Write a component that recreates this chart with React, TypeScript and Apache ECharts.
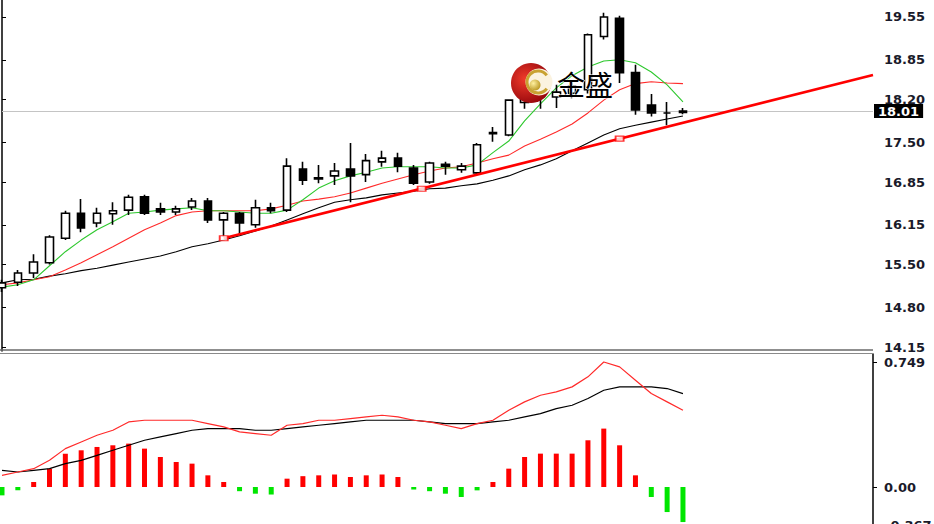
import React, { useEffect, useRef } from "react";
import * as echarts from "echarts";

// ---- price candles (44 bars) ----
const opens = [15.12, 15.21, 15.36, 15.53, 15.93, 16.34, 16.18, 16.33, 16.39, 16.61, 16.41, 16.36, 16.44, 16.54, 16.23, 16.34, 16.15, 16.43, 16.39, 17.06, 16.92, 16.95, 17.06, 16.97, 17.18, 17.24, 17.08, 16.85, 17.14, 17.05, 17.0, 17.64, 17.62, 18.15, 18.55, 18.24, 18.3, 18.36, 19.23, 19.53, 18.64, 18.11, 17.98, 17.99];
const closes = [15.2, 15.36, 15.54, 15.95, 16.34, 16.1, 16.34, 16.38, 16.6, 16.34, 16.36, 16.41, 16.54, 16.23, 16.34, 16.18, 16.43, 16.38, 17.11, 16.88, 16.9, 17.03, 16.95, 17.2, 17.24, 17.11, 16.83, 17.16, 17.11, 17.11, 17.46, 17.66, 18.19, 18.55, 18.25, 18.32, 18.42, 19.26, 19.55, 18.64, 18.03, 17.98, 17.98, 18.01];
const lows = [15.05, 15.15, 15.28, 15.5, 15.9, 16.03, 16.11, 16.15, 16.31, 16.31, 16.31, 16.31, 16.39, 16.18, 15.96, 15.98, 16.1, 16.34, 16.36, 16.8, 16.83, 16.8, 16.52, 16.85, 17.1, 17.01, 16.8, 16.82, 16.97, 17.0, 16.97, 17.51, 17.6, 18.05, 18.05, 18.06, 18.22, 18.3, 19.18, 18.47, 17.95, 17.92, 17.78, 17.96];
const highs = [15.25, 15.41, 15.67, 15.98, 16.38, 16.57, 16.43, 16.52, 16.64, 16.64, 16.51, 16.46, 16.59, 16.59, 16.36, 16.36, 16.56, 16.51, 17.24, 17.18, 17.13, 17.16, 17.49, 17.31, 17.36, 17.33, 17.13, 17.18, 17.18, 17.16, 17.49, 17.75, 18.2, 18.65, 18.62, 18.44, 18.5, 19.28, 19.62, 19.57, 18.77, 18.29, 18.16, 18.06];

// ---- moving averages ----
const maGreen = [15.13, 15.17, 15.25, 15.48, 15.71, 15.9, 16.07, 16.2, 16.34, 16.36, 16.39, 16.41, 16.43, 16.38, 16.38, 16.36, 16.34, 16.34, 16.39, 16.56, 16.75, 16.87, 16.95, 17.01, 17.08, 17.1, 17.1, 17.1, 17.08, 17.08, 17.13, 17.33, 17.52, 17.85, 18.13, 18.39, 18.59, 18.73, 18.83, 18.85, 18.8, 18.65, 18.44, 18.16];
const maRed = [15.17, 15.2, 15.25, 15.3, 15.41, 15.53, 15.66, 15.79, 15.93, 16.07, 16.18, 16.3, 16.36, 16.38, 16.38, 16.38, 16.38, 16.41, 16.47, 16.54, 16.57, 16.61, 16.67, 16.75, 16.83, 16.9, 16.97, 17.03, 17.08, 17.1, 17.16, 17.23, 17.29, 17.44, 17.55, 17.67, 17.8, 17.98, 18.19, 18.36, 18.46, 18.49, 18.47, 18.46];
const maBlack = [15.2, 15.25, 15.26, 15.31, 15.35, 15.4, 15.44, 15.49, 15.54, 15.59, 15.64, 15.71, 15.79, 15.84, 15.9, 15.97, 16.05, 16.13, 16.23, 16.33, 16.43, 16.52, 16.56, 16.59, 16.64, 16.67, 16.7, 16.74, 16.75, 16.79, 16.82, 16.88, 16.95, 17.05, 17.13, 17.23, 17.36, 17.49, 17.62, 17.72, 17.78, 17.83, 17.88, 17.93];

// ---- trend line (bar index, price) ----
const trendIdx = [14, 55];
const trendVal = [15.93, 18.6];
const markerIdx = [14, 26.5, 39];
const markerVal = [15.93, 16.74, 17.56];

// ---- MACD pane ----
const macdHist = [-0.05, -0.02, 0.03, 0.11, 0.2, 0.22, 0.24, 0.25, 0.26, 0.23, 0.18, 0.15, 0.14, 0.07, 0.03, -0.025, -0.04, -0.045, 0.05, 0.065, 0.07, 0.075, 0.06, 0.07, 0.075, 0.06, -0.015, -0.025, -0.04, -0.06, -0.02, 0.03, 0.11, 0.18, 0.2, 0.2, 0.2, 0.28, 0.35, 0.25, 0.07, -0.06, -0.15, -0.21];
const macdRed = [0.07, 0.09, 0.11, 0.16, 0.23, 0.27, 0.31, 0.34, 0.39, 0.4, 0.4, 0.4, 0.4, 0.38, 0.36, 0.33, 0.32, 0.31, 0.37, 0.38, 0.4, 0.4, 0.41, 0.42, 0.43, 0.42, 0.4, 0.39, 0.37, 0.35, 0.38, 0.4, 0.46, 0.51, 0.55, 0.57, 0.6, 0.66, 0.749, 0.72, 0.64, 0.56, 0.51, 0.46];
const macdBlack = [0.1, 0.09, 0.1, 0.11, 0.14, 0.16, 0.19, 0.22, 0.25, 0.28, 0.3, 0.32, 0.34, 0.35, 0.35, 0.35, 0.34, 0.34, 0.35, 0.36, 0.37, 0.38, 0.39, 0.4, 0.4, 0.4, 0.4, 0.39, 0.38, 0.38, 0.38, 0.39, 0.4, 0.42, 0.44, 0.47, 0.49, 0.53, 0.58, 0.6, 0.6, 0.6, 0.59, 0.56];

// ---- axis ticks ----
const priceTicks = [19.55, 18.85, 18.2, 17.5, 16.85, 16.15, 15.5, 14.8, 14.15];
const macdTicks = [0.749, 0];
const lastPrice = 18.01;
const macdMinLabel = "-0.367";
const SLOTS = 56;

const labelFont = {
  fontFamily: "DejaVu Sans",
  fontSize: 13,
  fontWeight: "bold" as const,
  color: "#1a1a2a",
};

export default function App() {
  const ref = useRef<HTMLDivElement>(null);
  useEffect(() => {
    if (!ref.current) return;
    const chart = echarts.init(ref.current, undefined, { renderer: "svg" });
    const cats = Array.from({ length: SLOTS }, (_, i) => String(i));
    const candles = opens.map((o, i) => [o, closes[i], lows[i], highs[i]]);
    const thinLine = (data: number[], color: string, xi: number, yi: number, w = 1.1) => ({
      type: "line",
      xAxisIndex: xi,
      yAxisIndex: yi,
      data,
      symbol: "none",
      lineStyle: { color, width: w },
      z: 3,
    });
    const Z = 100;
    chart.setOption({
      animation: false,
      backgroundColor: "#ffffff",
      grid: [
        { left: 2, right: 61, top: 0, height: 351 },
        { left: 2, right: 61, top: 354, bottom: 0 },
      ],
      xAxis: [
        { type: "category", gridIndex: 0, data: cats, boundaryGap: false, show: false },
        { type: "category", gridIndex: 1, data: cats, boundaryGap: false, show: false },
        { type: "value", gridIndex: 0, min: 0, max: SLOTS - 1, show: false },
      ],
      yAxis: [
        {
          type: "value",
          gridIndex: 0,
          position: "right",
          min: 14.085,
          max: 19.828,
          splitLine: { show: false },
          axisLine: { show: true, lineStyle: { color: "#000", width: 1.5 } },
          axisTick: { show: true, customValues: priceTicks, length: 4, lineStyle: { color: "#000" } },
          axisLabel: {
            customValues: priceTicks,
            formatter: (v: number) => v.toFixed(2),
            margin: 11,
            ...labelFont,
          },
        },
        {
          type: "value",
          gridIndex: 1,
          position: "right",
          min: -0.2216,
          max: 0.797,
          splitLine: { show: false },
          axisLine: { show: true, lineStyle: { color: "#000", width: 1.5 } },
          axisTick: { show: true, customValues: macdTicks, length: 4, lineStyle: { color: "#000" } },
          axisLabel: {
            customValues: macdTicks,
            formatter: (v: number) => (v === 0 ? "0.00" : String(v)),
            margin: 11,
            ...labelFont,
          },
        },
      ],
      series: [
        {
          type: "candlestick",
          xAxisIndex: 0,
          yAxisIndex: 0,
          data: candles,
          barWidth: 8,
          itemStyle: {
            color: "#ffffff",
            color0: "#000000",
            borderColor: "#000000",
            borderColor0: "#000000",
            borderWidth: 1.6,
          },
          z: 4,
          markLine: {
            silent: true,
            symbol: ["none", "none"],
            data: [{ yAxis: lastPrice }],
            lineStyle: { color: "#c4c4c4", width: 1, type: "solid" },
            label: {
              show: true,
              position: "end",
              distance: 1,
              formatter: lastPrice.toFixed(2),
              backgroundColor: "#000",
              padding: [1, 4, 0, 4],
              ...labelFont,
              color: "#ffffff",
            },
            z: 1,
          },
        },
        thinLine(maBlack, "#000000", 0, 0),
        thinLine(maRed, "#ff2a2a", 0, 0),
        thinLine(maGreen, "#2ec82e", 0, 0),
        {
          type: "line",
          xAxisIndex: 2,
          yAxisIndex: 0,
          data: trendIdx.map((x, i) => [x, trendVal[i]]),
          symbol: "none",
          lineStyle: { color: "#ff0000", width: 2.6 },
          z: 5,
        },
        {
          type: "scatter",
          xAxisIndex: 2,
          yAxisIndex: 0,
          data: markerIdx.map((x, i) => [x, markerVal[i]]),
          symbol: "rect",
          symbolSize: [8, 5],
          itemStyle: { color: "#ffffff", borderColor: "#ff0000", borderWidth: 1.5 },
          z: 6,
        },
        {
          type: "bar",
          xAxisIndex: 1,
          yAxisIndex: 1,
          data: macdHist,
          barWidth: 5,
          itemStyle: {
            color: (p: any) => (p.value >= 0 ? "#ff0000" : "#00e600"),
          },
        },
        thinLine(macdBlack, "#000000", 1, 1, 1.2),
        thinLine(macdRed, "#ff2a2a", 1, 1, 1.2),
      ],
      graphic: [
        { type: "line", shape: { x1: 0, y1: 350, x2: 873, y2: 350 }, style: { stroke: "#6a6a6a", lineWidth: 1.5 }, z: Z },
        { type: "line", shape: { x1: 0, y1: 353.5, x2: 873, y2: 353.5 }, style: { stroke: "#8a8a8a", lineWidth: 1.2 }, z: Z },
        {
          type: "text",
          x: 885,
          y: 519,
          style: { text: macdMinLabel, font: "bold 13px 'DejaVu Sans'", fill: "#1a1a2a" },
          z: Z,
        },
        {
          type: "circle",
          z: Z,
          shape: { cx: 531, cy: 83, r: 20 },
          style: {
            fill: new echarts.graphic.RadialGradient(0.35, 0.4, 0.75, [
              { offset: 0, color: "#f03a2a" },
              { offset: 1, color: "#8a0008" },
            ]),
          },
        },
        { type: "circle", z: Z + 1, shape: { cx: 539, cy: 82, r: 13.5 }, style: { fill: "#fbf3e0" } },
        {
          type: "arc",
          z: Z + 2,
          shape: { cx: 538, cy: 82, r: 11, startAngle: 0.65, endAngle: Math.PI * 2 - 0.65, clockwise: true },
          style: { stroke: "#c9a232", lineWidth: 3, fill: "none" },
        },
        {
          type: "circle",
          z: Z + 3,
          shape: { cx: 535, cy: 85, r: 5.5 },
          style: {
            fill: new echarts.graphic.RadialGradient(0.35, 0.35, 0.8, [
              { offset: 0, color: "#fff0a0" },
              { offset: 1, color: "#b08a10" },
            ]),
          },
        },
        {
          type: "text",
          z: Z + 3,
          x: 557,
          y: 70,
          style: {
            text: "金盛",
            font: "28px 'Noto Sans CJK SC'",
            fill: "#000000",
            stroke: "#ffffff",
            lineWidth: 1,
          },
        },
      ],
    });
    return () => chart.dispose();
  }, []);
  return (
    <div
      ref={ref}
      style={{ position: "fixed", left: 0, top: 0, width: 934, height: 524, background: "#fff" }}
    />
  );
}
